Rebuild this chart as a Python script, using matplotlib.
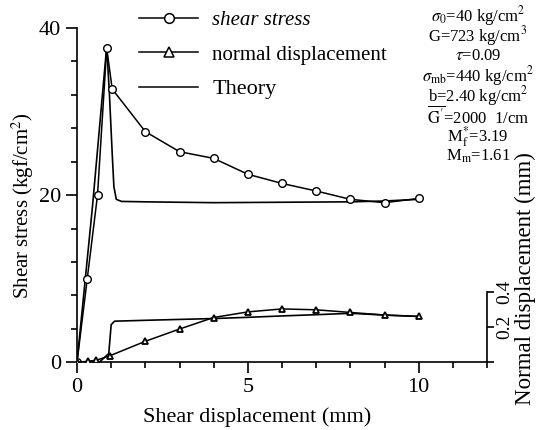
import matplotlib.pyplot as plt
from matplotlib.lines import Line2D

plt.rcParams['font.family'] = ['Liberation Serif', 'DejaVu Serif']
plt.rcParams['mathtext.fontset'] = 'stix'

# measured shear stress (kgf/cm2) vs shear displacement (mm)
sd_meas = [0, 0.3, 0.6, 0.87, 1.03, 2, 3, 4, 5, 6, 7, 8, 9, 10]
tau_meas = [0, 10, 20, 37.6, 32.7, 27.6, 25.2, 24.4, 22.5, 21.4, 20.5, 19.5, 19.1, 19.6]

# theory shear stress
sd_theo = [0, 0.45, 0.87, 0.95, 1.03, 1.08, 1.15, 1.3, 2, 4, 6, 8, 9, 10]
tau_theo = [0, 18.5, 37.8, 32.0, 25.0, 21.0, 19.5, 19.25, 19.2, 19.1, 19.15, 19.2, 19.3, 19.5]

# measured normal displacement (mm)
nd_x = [0, 0.33, 0.57, 0.97, 2, 3, 4, 5, 6, 7, 8, 9, 10]
nd_meas = [0, 0.006, 0.012, 0.038, 0.12, 0.19, 0.256, 0.288, 0.305, 0.30, 0.285, 0.27, 0.262]

# theory normal displacement
nd_theo_x = [0, 0.65, 0.93, 1.0, 1.1, 2, 4, 5, 6, 7, 8, 9, 10]
nd_theo = [0, 0.0, 0.05, 0.215, 0.235, 0.24, 0.25, 0.257, 0.265, 0.272, 0.28, 0.27, 0.262]

params = [r'$\sigma_0$=40 kg/cm$^2$',
          r'G=723 kg/cm$^3$',
          r'$\tau$=0.09',
          r'$\sigma_{\mathrm{mb}}$=440 kg/cm$^2$',
          r'b=2.40 kg/cm$^2$',
          r"$\overline{\mathrm{G}^{\prime}}$=2000  1/cm",
          r'M$_\mathrm{f}^{*}$=3.19',
          r'M$_\mathrm{m}$=1.61']

W, H = 545, 430
fig = plt.figure(figsize=(W / 100, H / 100), dpi=100)
ax = fig.add_axes([77 / W, (H - 362.3) / H, 410 / W, 334.3 / H])

ax.plot(sd_theo, tau_theo, color='black', linewidth=1.2)
ax.plot(sd_meas, tau_meas, color='black', linewidth=1.1, marker='o',
        markersize=5.5, markerfacecolor='white', markeredgewidth=1.0)

ax.set_xlim(0, 12)
ax.set_ylim(0, 40)
ax.spines['top'].set_visible(False)
ax.spines['right'].set_visible(False)
ax.spines['left'].set_bounds(0, 40)
for s in ['left', 'bottom']:
    ax.spines[s].set_linewidth(1.2)

ax.set_xticks([0, 5, 10])
ax.set_xticks(range(0, 13), minor=True)
ax.set_yticks([0, 20, 40])
ax.set_yticks(range(0, 41, 4), minor=True)
ax.tick_params(which='major', direction='out', length=8, width=1.2, labelsize=16)
ax.tick_params(which='minor', direction='out', length=4.5, width=1.2)

ax.set_xlabel('Shear displacement (mm)', fontsize=16, va='center')
ax.xaxis.set_label_coords(0.44, -0.163)
ax.set_ylabel('Shear stress (kgf/cm$^2$)', fontsize=15, va='center')
ax.yaxis.set_label_coords(-0.132, 0.47)

ax2 = ax.twinx()
ax2.plot(nd_theo_x, nd_theo, color='black', linewidth=1.2)
ax2.plot(nd_x, nd_meas, color='black', linewidth=1.1, marker='^',
         markersize=4.5, markerfacecolor='white', markeredgewidth=1.3)
ax2.set_ylim(0, 0.4 * 334.3 / 70)
for s in ['top', 'left', 'bottom']:
    ax2.spines[s].set_visible(False)
ax2.spines['right'].set_bounds(0, 0.4)
ax2.spines['right'].set_linewidth(1.2)
ax2.set_yticks([0, 0.2, 0.4])
ax2.set_yticklabels(['', '0.2', '0.4'])
ax2.tick_params(axis='y', direction='out', length=5, width=1.2, labelsize=14,
                labelrotation=90, pad=1.5)
for lab in ax2.get_yticklabels():
    lab.set_va('center')
ax2.set_ylabel('Normal displacement (mm)', fontsize=16.5, va='center')
ax2.yaxis.set_label_coords(1.093, 0.25)

handles = [
    Line2D([], [], color='black', linewidth=1.1, marker='o', markersize=7,
           markerfacecolor='white', markeredgewidth=1.1),
    Line2D([], [], color='black', linewidth=1.1, marker='^', markersize=7,
           markerfacecolor='white', markeredgewidth=1.1),
    Line2D([], [], color='black', linewidth=1.1),
]
leg = fig.legend(handles, ['shear stress', 'normal displacement', 'Theory'],
                 loc='upper left', bbox_to_anchor=(129 / W, 1.0),
                 frameon=False, fontsize=15, handlelength=2.8,
                 handletextpad=0.7, labelspacing=0.72, borderpad=0)
texts = leg.get_texts()
texts[0].set_style('italic')
texts[2].set_fontsize(16)

ys = [16, 36, 56, 76, 96, 117, 137, 156]
for txt, y in zip(params, ys):
    fig.text(478 / W, 1 - y / H, txt, ha='center', va='center', fontsize=12)

fig.savefig('out.png', dpi=100)
